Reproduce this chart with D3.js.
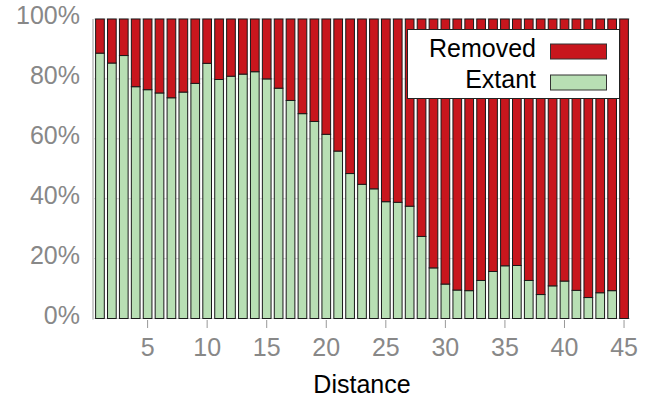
<!DOCTYPE html>
<html>
<head>
<meta charset="utf-8">
<script src="https://cdn.jsdelivr.net/npm/d3@7"></script>
<style>
  body { margin: 0; background: #fff; }
  text { font-family: "Liberation Sans", Arial, sans-serif; }
</style>
</head>
<body>
<script>
// distances 1..45 and share of extant (%), removed is the rest
var distances = d3.range(1, 46);
var extant = [88.6, 85.3, 87.8, 77.4, 76.4, 75.3, 73.7, 75.6, 78.5, 85.2,
              79.8, 80.9, 81.6, 82.4, 80.0, 76.9, 72.8, 68.4, 65.8, 61.5,
              55.9, 48.4, 44.8, 43.3, 39.0, 38.8, 37.5, 27.4, 16.9, 11.5,
              9.5, 9.3, 12.7, 15.7, 17.6, 17.7, 12.7, 8.0, 10.9, 12.5,
              9.4, 7.0, 8.6, 9.3, 0];
var removed = extant.map(function(v) { return 100 - v; });
var xTicks = [5, 10, 15, 20, 25, 30, 35, 40, 45];
var yTicks = [0, 20, 40, 60, 80, 100];
var legendItems = ["Removed", "Extant"];
var colors = {Removed: "#c8161d", Extant: "#b8dfb4"};

var width = 651, height = 400;
var svg = d3.select("body").append("svg")
    .attr("width", width)
    .attr("height", height);

var x = d3.scaleLinear().domain([0.5, 45.5]).range([94, 630]);
var y = d3.scaleLinear().domain([0, 100]).range([318.5, 19]);
var barW = (x(2) - x(1)) * 0.73;

// grid
svg.append("g").selectAll("line")
    .data(yTicks)
  .enter().append("line")
    .attr("x1", x(0.5)).attr("x2", x(45.5))
    .attr("y1", function(d) { return y(d); })
    .attr("y2", function(d) { return y(d); })
    .attr("stroke", "#d4d4d4")
    .attr("stroke-width", 1);

// left axis line
svg.append("line")
    .attr("x1", 93).attr("x2", 93)
    .attr("y1", y(100)).attr("y2", y(0) + 1)
    .attr("stroke", "#999").attr("stroke-width", 1);

// stacked bars
var data = distances.map(function(d, i) {
  return {d: d, Extant: extant[i], Removed: removed[i]};
});
var stack = d3.stack().keys(["Extant", "Removed"]);
var layers = stack(data);

svg.append("g").selectAll("g")
    .data(layers)
  .enter().append("g")
    .attr("fill", function(l) { return colors[l.key]; })
  .selectAll("rect")
    .data(function(l) { return l.filter(function(s) { return s[1] - s[0] > 0; }); })
  .enter().append("rect")
    .attr("x", function(s) { return x(s.data.d) - barW / 2; })
    .attr("width", barW)
    .attr("y", function(s) { return y(s[1]); })
    .attr("height", function(s) { return y(s[0]) - y(s[1]); })
    .attr("stroke", "#1a1a1a")
    .attr("stroke-width", 1);

// x axis ticks + labels
var xg = svg.append("g");
xg.selectAll("line")
    .data(xTicks)
  .enter().append("line")
    .attr("x1", function(d) { return x(d); })
    .attr("x2", function(d) { return x(d); })
    .attr("y1", 320).attr("y2", 328)
    .attr("stroke", "#999");
xg.selectAll("text")
    .data(xTicks)
  .enter().append("text")
    .attr("x", function(d) { return x(d); })
    .attr("y", 355.5)
    .attr("text-anchor", "middle")
    .attr("font-size", 25)
    .attr("fill", "#888")
    .text(function(d) { return d; });

// y labels
svg.append("g").selectAll("text")
    .data(yTicks)
  .enter().append("text")
    .attr("x", 80)
    .attr("y", function(d) { return y(d) + 5; })
    .attr("text-anchor", "end")
    .attr("font-size", 25)
    .attr("fill", "#888")
    .text(function(d) { return d + "%"; });

svg.append("text")
    .attr("x", 362)
    .attr("y", 393)
    .attr("text-anchor", "middle")
    .attr("font-size", 25)
    .attr("fill", "#000")
    .text("Distance");

// legend
var lg = svg.append("g");
lg.append("rect")
    .attr("x", 407.5).attr("y", 29.5)
    .attr("width", 212).attr("height", 69)
    .attr("fill", "#fff")
    .attr("stroke", "#222").attr("stroke-width", 1);
legendItems.forEach(function(k, i) {
  var cy = 52 + i * 31;
  lg.append("text")
      .attr("x", 536)
      .attr("y", cy + 5)
      .attr("text-anchor", "end")
      .attr("font-size", 25)
      .attr("fill", "#000")
      .text(k);
  lg.append("rect")
      .attr("x", 550.5).attr("y", cy - 8)
      .attr("width", 56).attr("height", 15)
      .attr("fill", colors[k])
      .attr("stroke", "#333").attr("stroke-width", 1);
});
</script>
</body>
</html>
